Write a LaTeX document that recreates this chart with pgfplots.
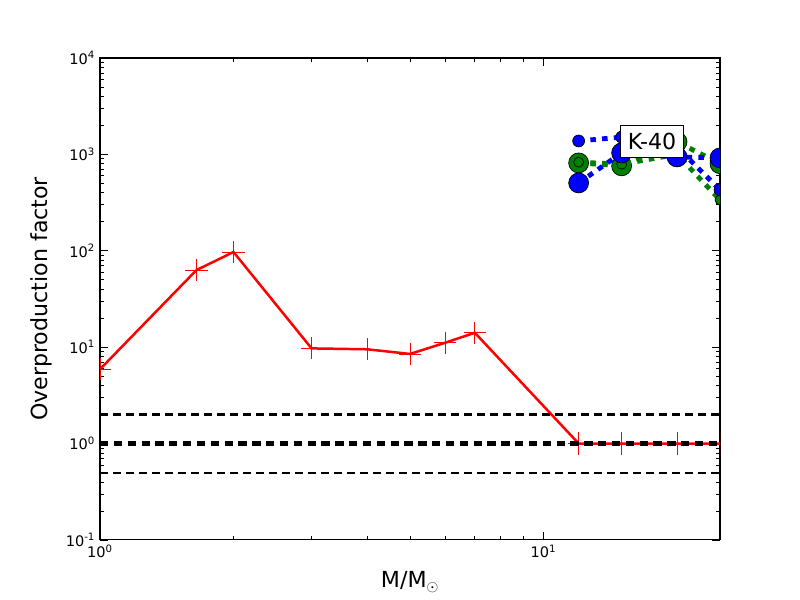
\documentclass[border=0pt]{standalone}
\usepackage{fontspec}
\setmainfont{DejaVu Sans}
\usepackage{pgfplots}
\pgfplotsset{compat=1.18}
\definecolor{mgreen}{rgb}{0,0.5,0}
\begin{document}
\begin{tikzpicture}
\path[use as bounding box] (-72.27pt,-43.36pt) rectangle (505.9pt,390.2pt);
\begin{axis}[
  at={(0,0)}, anchor=south west,
  scale only axis, width=448.1pt, height=348.3pt,
  xmode=log, ymode=log,
  xmin=1, xmax=25, ymin=0.1, ymax=10000,
  xtick={1,10}, xticklabels={10\textsuperscript{0},10\textsuperscript{1}},
  ytick={0.1,1,10,100,1000,10000},
  yticklabels={10\textsuperscript{-1},10\textsuperscript{0},10\textsuperscript{1},10\textsuperscript{2},10\textsuperscript{3},10\textsuperscript{4}},
  tick label style={font=\fontsize{10.5}{12}\selectfont},
  xlabel={M/M$_\odot$}, ylabel={Overproduction factor},
  label style={font=\fontsize{16}{19}\selectfont},
  xlabel style={at={(axis description cs:0.5,-0.087)}, anchor=center},
  ylabel style={at={(axis description cs:-0.095,0.5)}, anchor=center},
  tick align=inside, major tick length=5.5pt, minor tick length=2.8pt,
  tick style={black, line width=0.5pt},
  axis line style={line width=0.8pt},
  clip marker paths=true,
]
\addplot[red, line width=1.8pt, mark=+, mark size=8pt, mark options={line width=0.6pt}]
  coordinates {(1,5.9)(1.65,63)(2,97)(3,9.7)(4,9.5)(5,8.5)(6,11.1)(7,14.1)(12,1)(15,1)(20,1)(25,1)};
\addplot[black, line width=1.5pt, dash pattern=on 5.8pt off 3.6pt] coordinates {(1,2)(25,2)};
\addplot[black, line width=1.5pt, dash pattern=on 5.8pt off 3.6pt] coordinates {(1,0.5)(25,0.5)};
\addplot[black, line width=3pt, dash pattern=on 6pt off 4pt] coordinates {(1,1)(25,1)};
% green series
\addplot[mgreen, line width=3.5pt, dash pattern=on 4pt off 4.5pt, mark=*, mark size=7.2pt,
  mark options={solid, fill=mgreen, draw=black, line width=0.5pt}]
  coordinates {(12,815)(15,760)(20,1350)(25,800)};
\addplot[mgreen, line width=3.5pt, dash pattern=on 4pt off 4.5pt, mark=*, mark size=3.6pt,
  mark options={solid, fill=mgreen, draw=black, line width=0.5pt}]
  coordinates {(12,830)(15,790)(20,1000)(25,336)};
% blue series
\addplot[blue, line width=3.5pt, dash pattern=on 4pt off 4.5pt, mark=*, mark size=7.2pt,
  mark options={solid, fill=blue, draw=black, line width=0.5pt}]
  coordinates {(12,505)(15,1035)(20,940)(25,918)};
\addplot[blue, line width=3.5pt, dash pattern=on 4pt off 4.5pt, mark=*, mark size=4.3pt,
  mark options={solid, fill=blue, draw=black, line width=0.5pt}]
  coordinates {(12,1377)(15,1510)(20,1190)(25,428)};
\coordinate (klab) at (axis cs:17.56,1361);
\end{axis}
\node[draw=black, fill=white, font=\fontsize{16}{19}\selectfont, inner xsep=5pt, inner ysep=5.2pt, line width=0.6pt]
  at (klab) {K-40};
\end{tikzpicture}
\end{document}
